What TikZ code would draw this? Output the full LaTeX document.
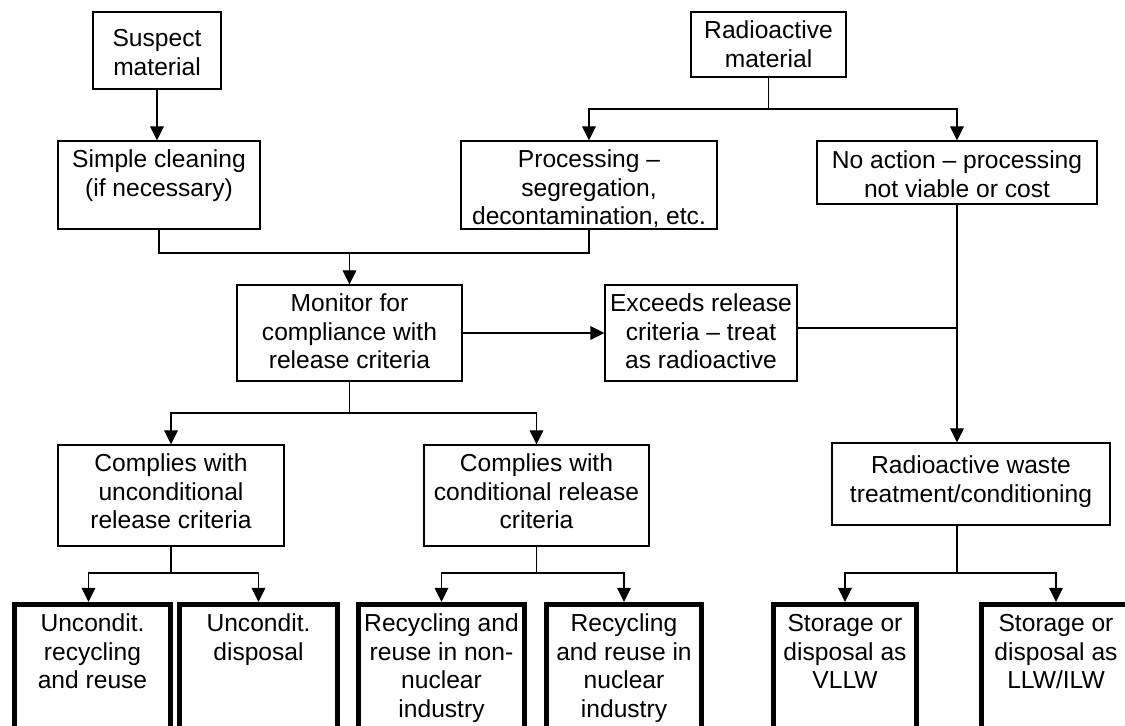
\documentclass[tikz,border=0pt]{standalone}
\usepackage{fontspec}
\setmainfont{Liberation Sans}
\usetikzlibrary{arrows.meta}
\newdimen\upx \upx=0.5pt
\newcommand\bt[4]{\parbox[c][#2\upx][t]{#1\upx}{\centering\vspace*{#3\upx}\strut#4}}
\begin{document}
\begin{tikzpicture}[x=0.5pt,y=-0.5pt,
  every node/.style={font=\fontsize{12.3}{14.25}\selectfont},
  bx/.style={draw,line width=0.65pt,inner sep=0pt,rectangle},
  tbx/.style={draw,line width=2.5pt,inner sep=0pt,rectangle},
  ln/.style={line width=0.65pt},
  arr/.style={ln,-{Triangle[width=6.8pt,length=7pt]}}]
\useasboundingbox (0,0) rectangle (1125,726);
\fill[white] (0,0) rectangle (1125,726);
% boxes
\node[bx] (sus) at (157,50.5) {\bt{128}{77}{14.6}{Suspect\\material}};
\node[bx] (rad) at (768.5,44.5) {\bt{155}{65}{6.6}{Radioactive\\material}};
\node[bx] (clean) at (159,185) {\bt{202}{88}{6.6}{Simple cleaning\\(if necessary)}};
\node[bx] (proc) at (589,185) {\bt{256}{88}{6.6}{Processing –\\segregation,\\decontamination, etc.}};
\node[bx] (noact) at (957,172.5) {\bt{280}{63}{7.6}{No action – processing\\not viable or cost}};
\node[bx] (mon) at (349.5,333) {\bt{225}{96}{6.6}{Monitor for\\compliance with\\release criteria}};
\node[bx] (exc) at (701,333) {\bt{192}{96}{6.6}{Exceeds release\\criteria – treat\\as radioactive}};
\node[bx] (rw) at (971,484) {\bt{278}{82}{10.6}{Radioactive waste\\treatment/conditioning}};
\node[bx] (cu) at (171,495.5) {\bt{226}{101}{6.6}{Complies with\\unconditional\\release criteria}};
\node[bx] (cc) at (536.5,495.5) {\bt{225}{101}{6.6}{Complies with\\conditional release\\criteria}};
% thick result boxes
\node[tbx] (b1) at (92.5,674.75) {\bt{156}{140.5}{7.1}{Uncondit.\\recycling\\and reuse}};
\node[tbx] (b2) at (258.5,674.75) {\bt{158}{140.5}{7.1}{Uncondit.\\disposal}};
\node[tbx] (b3) at (441.5,674.75) {\bt{166}{140.5}{7.1}{Recycling and\\reuse in non-\\nuclear\\industry}};
\node[tbx] (b4) at (624,674.75) {\bt{155}{140.5}{7.1}{Recycling\\and reuse in\\nuclear\\industry}};
\node[tbx] (b5) at (845,674.75) {\bt{143}{140.5}{7.1}{Storage or\\disposal as\\VLLW}};
\node[tbx] (b6) at (1056,674.75) {\bt{149}{140.5}{7.1}{Storage or\\disposal as\\LLW/ILW}};
% connectors
\draw[arr] (sus.south) -- (sus.south |- clean.north);
\coordinate (j1) at (349.5,253);
\draw[ln] (clean.south) |- (proc.south |- j1) -- (proc.south);
\draw[arr] (j1) -- (mon.north);
\coordinate (j2) at (768.5,109);
\draw[ln] (rad.south) -- (j2);
\draw[arr] (j2) -| (proc.north);
\draw[arr] (j2) -| (noact.north);
\draw[arr] (mon.east) -- (exc.west);
\draw[ln] ([yshift=2.5pt]exc.east) -- ([yshift=2.5pt]exc.east -| noact.south);
\draw[arr] (noact.south) -- (noact.south |- rw.north);
\coordinate (j3) at (349.5,413);
\draw[ln] (mon.south) -- (j3);
\draw[arr] (j3) -| (cu.north);
\draw[arr] (j3) -| (cc.north);
\coordinate (j4) at (171,573);
\draw[ln] (cu.south) -- (j4);
\draw[arr] (j4) -| ([xshift=-2pt]b1.north);
\draw[arr] (j4) -| (b2.north);
\coordinate (j5) at (536.5,573);
\draw[ln] (cc.south) -- (j5);
\draw[arr] (j5) -| (b3.north);
\draw[arr] (j5) -| (b4.north);
\coordinate (j6) at (957,573);
\draw[ln] (noact.south |- rw.south) -- (j6);
\draw[arr] (j6) -| (b5.north);
\draw[arr] (j6) -| (b6.north);
\end{tikzpicture}
\end{document}
